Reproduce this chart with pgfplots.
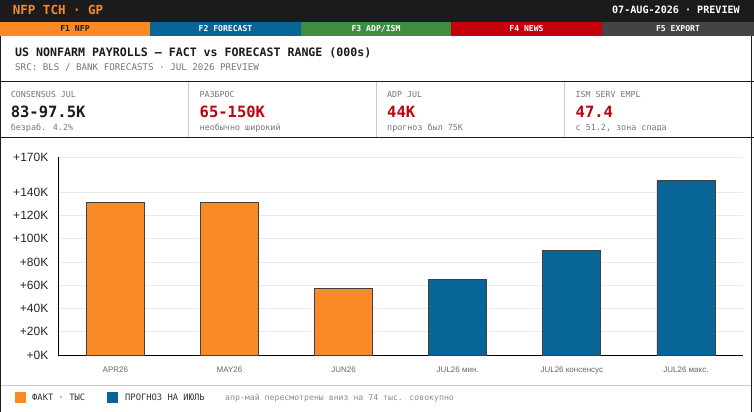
\documentclass[border=0pt]{standalone}
\usepackage{fontspec}
\setmainfont{Liberation Sans}
\newfontfamily\mono{DejaVu Sans Mono}
\usepackage{pgfplots}
\pgfplotsset{compat=1.18}
\definecolor{topbar}{HTML}{1B1B1B}
\definecolor{tOrange}{HTML}{FA8A28}
\definecolor{tBlue}{HTML}{076598}
\definecolor{tGreen}{HTML}{3E8E41}
\definecolor{tRed}{HTML}{C4000C}
\definecolor{tGray}{HTML}{444444}
\definecolor{kRed}{HTML}{C0000E}
\definecolor{lblGray}{HTML}{777777}
\definecolor{sepGray}{HTML}{CCCCCC}
\definecolor{gridGray}{HTML}{EBEBEB}
\newcommand{\fs}[1]{\fontsize{#1bp}{#1bp}\selectfont}
\begin{document}
\begin{tikzpicture}
\path[use as bounding box, fill=white] (0,0) rectangle (754bp,-412bp);
% top bar
\fill[topbar] (0,0) rectangle (754bp,-22bp);
\node[anchor=base west, inner sep=0, text=tOrange, font=\mono\bfseries\fs{12.5}] at (12.7bp,-14.4bp) {NFP TCH · GP};
\node[anchor=base east, inner sep=0, text=white, font=\mono\bfseries\fs{10.1}] at (740bp,-13.7bp) {07-AUG-2026 · PREVIEW};
% tabs
\fill[tOrange] (0,-22bp) rectangle (150bp,-35.7bp);
\fill[tBlue] (150bp,-22bp) rectangle (301bp,-35.7bp);
\fill[tGreen] (301bp,-22bp) rectangle (451bp,-35.7bp);
\fill[tRed] (451bp,-22bp) rectangle (602bp,-35.7bp);
\fill[tGray] (602bp,-22bp) rectangle (754bp,-35.7bp);
\begin{scope}[every node/.style={anchor=base, inner sep=0, font=\mono\bfseries\fs{8.1}}]
\node[text=topbar] at (75bp,-31.8bp) {F1 NFP};
\node[text=white] at (225.5bp,-31.8bp) {F2 FORECAST};
\node[text=white] at (376bp,-31.8bp) {F3 ADP/ISM};
\node[text=white] at (526.5bp,-31.8bp) {F4 NEWS};
\node[text=white] at (678bp,-31.8bp) {F5 EXPORT};
\end{scope}
% title
\node[anchor=base west, inner sep=0, text=topbar, font=\mono\bfseries\fs{11.6}] at (15bp,-56.4bp) {US NONFARM PAYROLLS — FACT vs FORECAST RANGE (000s)};
\node[anchor=base west, inner sep=0, text=lblGray, font=\mono\fs{9.2}] at (15bp,-70bp) {SRC: BLS / BANK FORECASTS · JUL 2026 PREVIEW};
% KPI separators
\draw[sepGray, line width=0.8bp] (188.5bp,-82bp) -- (188.5bp,-138bp);
\draw[sepGray, line width=0.8bp] (376bp,-82bp) -- (376bp,-138bp);
\draw[sepGray, line width=0.8bp] (564bp,-82bp) -- (564bp,-138bp);
% KPI texts
\begin{scope}[every node/.style={anchor=base west, inner sep=0}]
\node[text=lblGray, font=\mono\fs{8.3}] at (10.6bp,-97.3bp) {CONSENSUS JUL};
\node[text=lblGray, font=\mono\fs{8.3}] at (199.5bp,-97.3bp) {РАЗБРОС};
\node[text=lblGray, font=\mono\fs{8.3}] at (387bp,-97.3bp) {ADP JUL};
\node[text=lblGray, font=\mono\fs{8.3}] at (575.5bp,-97.3bp) {ISM SERV EMPL};
\node[text=topbar, font=\mono\bfseries\fs{15.5}] at (10.6bp,-117.4bp) {83-97.5K};
\node[text=kRed, font=\mono\bfseries\fs{15.5}] at (199.5bp,-117.4bp) {65-150K};
\node[text=kRed, font=\mono\bfseries\fs{15.5}] at (387bp,-117.4bp) {44K};
\node[text=kRed, font=\mono\bfseries\fs{15.5}] at (575.5bp,-117.4bp) {47.4};
\node[text=lblGray, font=\mono\fs{8.4}] at (10.6bp,-130bp) {безраб. 4.2\%};
\node[text=lblGray, font=\mono\fs{8.4}] at (199.5bp,-130bp) {необычно широкий};
\node[text=lblGray, font=\mono\fs{8.4}] at (387bp,-130bp) {прогноз был 75K};
\node[text=lblGray, font=\mono\fs{8.4}] at (575.5bp,-130bp) {с 51.2, зона спада};
\end{scope}
% separator under x labels
\draw[sepGray, line width=0.8bp] (0,-385bp) -- (752bp,-385bp);
% frame lines
\draw[topbar, line width=1.3bp] (0,-81.7bp) -- (754bp,-81.7bp);
\draw[topbar, line width=1.3bp] (0,-137.7bp) -- (754bp,-137.7bp);
\draw[topbar, line width=1.3bp] (0.65bp,-35.7bp) -- (0.65bp,-412bp);
\draw[topbar, line width=1.3bp] (751.5bp,-35.7bp) -- (751.5bp,-412bp);
% chart
\begin{axis}[
  at={(58.3bp,-355bp)}, anchor=south west,
  scale only axis, width=684.7bp, height=197.7bp,
  xmin=-0.5, xmax=5.5, ymin=0, ymax=170,
  ytick={0,20,40,60,80,100,120,140,170},
  /pgf/number format/assume math mode=true,
  yticklabel={+\pgfmathprintnumber{\tick}K},
  xtick={0,1,2,3,4,5},
  xticklabels={APR26,MAY26,JUN26,JUL26 мин.,JUL26 консенсус,JUL26 макс.},
  ymajorgrids, grid style={gridGray, line width=0.8bp},
  axis x line*=bottom, axis y line*=left,
  axis line style={black, line width=0.9bp, -},
  major tick length=0pt,
  yticklabel style={font=\fs{12}, text=black!85, xshift=-6.5bp},
  xticklabel style={font=\fs{8}, text=black!60, yshift=-8bp},
  clip=false,
]
\addplot[ybar, bar width=58bp, bar shift=0pt, fill=tOrange, draw=black!75, line width=0.8bp]
  coordinates {(0,131) (1,131) (2,57)};
\addplot[ybar, bar width=58bp, bar shift=0pt, fill=tBlue, draw=black!75, line width=0.8bp]
  coordinates {(3,65) (4,90) (5,150)};
\end{axis}
% legend
\fill[tOrange] (15bp,-392bp) rectangle (26bp,-403bp);
\node[anchor=base west, inner sep=0, text=black!80, font=\mono\fs{8.8}] at (32bp,-400.3bp) {ФАКТ · ТЫС};
\fill[tBlue] (107bp,-392bp) rectangle (118bp,-403bp);
\node[anchor=base west, inner sep=0, text=black!80, font=\mono\fs{8.8}] at (125bp,-400.3bp) {ПРОГНОЗ НА ИЮЛЬ};
\node[anchor=base west, inner sep=0, text=black!45, font=\mono\fs{8.2}] at (225bp,-400.3bp) {апр-май пересмотрены вниз на 74 тыс. совокупно};
\end{tikzpicture}
\end{document}
